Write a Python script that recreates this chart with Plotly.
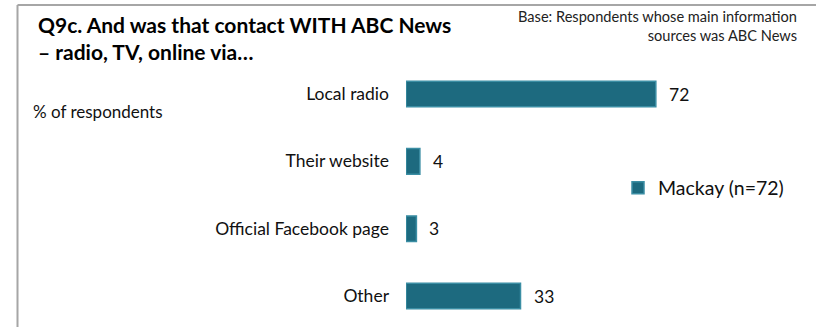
import plotly.graph_objects as go

categories = ["Local radio", "Their website", "Official Facebook page", "Other"]
values = [72, 4, 3, 33]
series_name = "Mackay (n=72)"

W, H = 816, 327
ML, MR, MT, MB = 406, 63, 60, 0
PW, PH = W - ML - MR, H - MT - MB

def px(x):
    return (x - ML) / PW

def py(y):
    return (H - MB - y) / PH

FONT = "Lato"
bar_color = "#1d6a7f"

pos = list(range(len(categories)))

fig = go.Figure()
fig.add_trace(go.Bar(
    x=values, y=pos, orientation="h", name=series_name,
    marker=dict(color=bar_color, line=dict(color="#3b8ea4", width=1.5)),
    width=0.38, showlegend=True,
))

for v, p in zip(values, pos):
    fig.add_annotation(x=v, y=p, xref="x", yref="y", text=str(v), showarrow=False,
                       xanchor="left", xshift=11, font=dict(family=FONT, size=17.5, color="#111"))

fig.add_annotation(x=px(36), y=py(10), xref="paper", yref="paper", xanchor="left", yanchor="top",
                   align="left", showarrow=False,
                   text="<b>Q9c. And was that contact WITH ABC News<br>– radio, TV, online via…</b>",
                   font=dict(family=FONT, size=21, color="#000"))
fig.add_annotation(x=px(799), y=py(6), xref="paper", yref="paper", xanchor="right", yanchor="top",
                   align="right", showarrow=False,
                   text="Base: Respondents whose main information<br>sources was ABC News",
                   font=dict(family=FONT, size=14.6, color="#222"))
fig.add_annotation(x=px(31), y=py(111), xref="paper", yref="paper", xanchor="left", yanchor="middle",
                   showarrow=False, text="% of respondents",
                   font=dict(family=FONT, size=17, color="#111"))

# frame
fig.add_shape(type="line", xref="paper", yref="paper", x0=px(17.5), x1=px(816), y0=py(5), y1=py(5),
              line=dict(color="#a6a6a6", width=2))
fig.add_shape(type="line", xref="paper", yref="paper", x0=px(17.5), x1=px(17.5), y0=py(5), y1=py(327),
              line=dict(color="#a6a6a6", width=2))

fig.update_layout(
    width=W, height=H,
    margin=dict(l=ML, r=MR, t=MT, b=MB, pad=0),
    paper_bgcolor="white", plot_bgcolor="white",
    xaxis=dict(range=[0, 100], visible=False, fixedrange=True),
    yaxis=dict(range=[3.46, -0.505], tickvals=pos, ticktext=categories, showgrid=False,
               zeroline=False, showline=False, ticks="", ticklabelstandoff=16,
               tickfont=dict(family=FONT, size=17.5, color="#111")),
    legend=dict(x=px(618), y=py(188), xanchor="left", yanchor="middle", bgcolor="rgba(0,0,0,0)",
                font=dict(family=FONT, size=19.5, color="#111"), itemwidth=30, tracegroupgap=0),
    showlegend=True,
)

fig.write_html("out.html")
